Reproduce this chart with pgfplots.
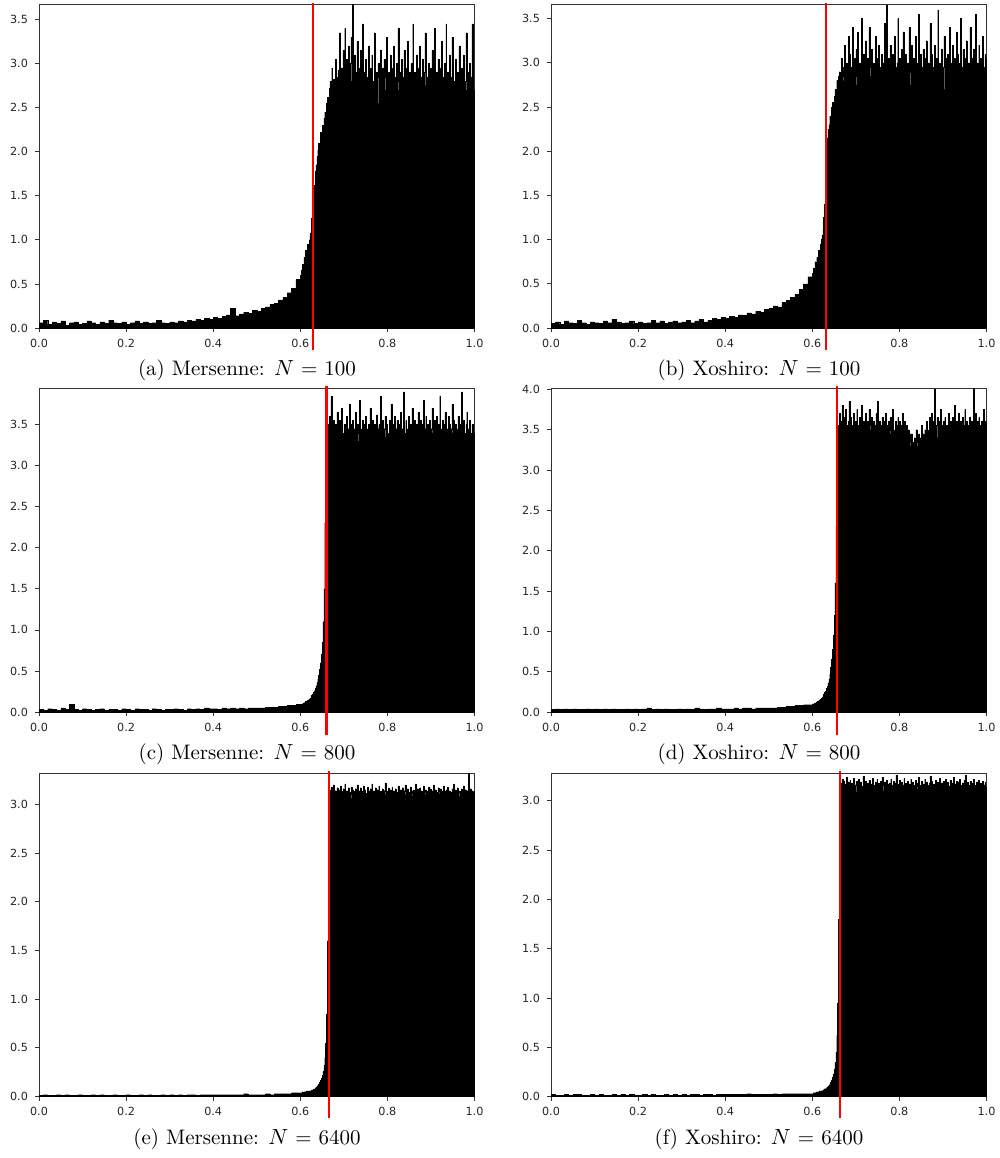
\documentclass[border=0pt]{standalone}
\usepackage{fontspec}
\newfontfamily\tickfont{DejaVu Sans}
\usepackage{pgfplots}
\usepackage{pgfplotstable}
\pgfplotsset{compat=1.18}

% ---------- (a) Mersenne N=100 ----------
\pgfplotstableread[header=false,row sep=\\]{
0.06\\0.09\\0.04\\0.07\\0.05\\0.08\\0.03\\0.06\\0.07\\0.04\\
0.05\\0.08\\0.06\\0.04\\0.07\\0.05\\0.09\\0.06\\0.05\\0.07\\
0.04\\0.06\\0.08\\0.05\\0.07\\0.05\\0.06\\0.09\\0.06\\0.05\\
0.07\\0.06\\0.08\\0.07\\0.09\\0.08\\0.10\\0.09\\0.11\\0.10\\
0.12\\0.11\\0.13\\0.15\\0.22\\0.14\\0.16\\0.18\\0.17\\0.20\\
0.19\\0.22\\0.24\\0.27\\0.28\\0.32\\0.35\\0.40\\0.45\\0.55\\
0.55\\
}\aL
\pgfplotstableread[header=false,row sep=\\]{
0.60\\0.66\\0.72\\0.65\\0.80\\0.76\\0.88\\0.82\\0.95\\0.90\\
1.00\\1.08\\1.05\\1.25\\1.42\\1.55\\1.62\\1.78\\1.85\\1.95\\
2.02\\2.10\\2.08\\2.22\\2.20\\2.30\\2.28\\2.38\\2.45\\2.42\\
2.55\\2.62\\2.58\\2.72\\2.80\\2.68\\2.95\\2.75\\2.82\\2.70\\
3.05\\2.85\\2.78\\2.92\\2.80\\3.35\\2.88\\2.95\\2.75\\3.15\\
2.90\\3.40\\2.70\\3.05\\2.85\\3.20\\2.65\\3.00\\3.30\\2.80\\
3.67\\2.75\\3.10\\2.90\\2.60\\3.25\\2.85\\2.95\\2.55\\3.15\\
2.80\\3.45\\2.70\\2.90\\2.50\\3.05\\2.85\\2.65\\3.20\\2.75\\
2.95\\2.45\\3.10\\2.80\\2.70\\3.35\\2.60\\2.90\\2.85\\3.00\\
2.55\\2.80\\3.15\\2.75\\2.95\\2.40\\3.05\\2.85\\2.70\\3.30\\
2.65\\2.90\\2.80\\3.10\\2.50\\2.95\\2.75\\3.20\\2.85\\2.60\\
3.00\\2.80\\3.40\\2.70\\2.90\\2.55\\3.05\\2.85\\2.75\\3.15\\
2.60\\2.95\\2.80\\3.25\\2.70\\2.90\\2.45\\3.00\\2.85\\3.45\\
2.75\\2.90\\2.65\\3.10\\2.80\\2.95\\2.55\\3.20\\2.70\\2.85\\
3.05\\2.60\\2.90\\3.35\\2.75\\2.85\\2.50\\3.00\\2.80\\2.95\\
2.70\\3.15\\2.85\\2.60\\3.40\\2.75\\2.90\\2.80\\3.05\\2.55\\
2.95\\2.70\\3.25\\2.85\\2.65\\3.00\\2.80\\3.45\\2.75\\2.90\\
2.60\\3.10\\2.85\\2.70\\3.30\\2.95\\2.50\\2.80\\3.05\\2.75\\
2.90\\2.65\\3.20\\2.85\\2.40\\2.95\\2.75\\3.10\\2.00\\2.80\\
3.35\\2.70\\2.90\\2.60\\3.00\\2.85\\2.55\\3.45\\2.75\\2.70\\
2.70\\
}\aR
% ---------- (b) Xoshiro N=100 ----------
\pgfplotstableread[header=false,row sep=\\]{
0.05\\0.07\\0.04\\0.08\\0.06\\0.05\\0.09\\0.06\\0.04\\0.07\\
0.06\\0.05\\0.08\\0.06\\0.10\\0.07\\0.05\\0.06\\0.08\\0.05\\
0.07\\0.05\\0.06\\0.09\\0.06\\0.08\\0.05\\0.07\\0.08\\0.06\\
0.07\\0.09\\0.06\\0.08\\0.10\\0.07\\0.09\\0.11\\0.10\\0.12\\
0.11\\0.13\\0.12\\0.15\\0.14\\0.17\\0.16\\0.19\\0.18\\0.21\\
0.22\\0.25\\0.24\\0.29\\0.31\\0.35\\0.38\\0.44\\0.50\\0.58\\
0.58\\
}\bL
\pgfplotstableread[header=false,row sep=\\]{
0.62\\0.68\\0.64\\0.75\\0.72\\0.80\\0.78\\0.88\\0.85\\0.95\\
1.00\\1.05\\1.12\\1.25\\1.40\\1.90\\2.05\\2.15\\2.25\\2.30\\
2.40\\2.38\\2.50\\2.55\\2.48\\2.62\\2.70\\2.58\\2.80\\2.72\\
2.85\\2.90\\2.78\\3.05\\2.85\\2.95\\2.80\\3.20\\2.90\\3.00\\
2.75\\3.30\\2.85\\3.10\\2.95\\2.80\\3.40\\2.90\\3.05\\2.85\\
3.15\\2.75\\3.35\\2.90\\3.00\\2.70\\3.50\\2.85\\3.10\\2.95\\
2.80\\3.25\\2.90\\3.05\\2.65\\3.40\\2.95\\2.85\\3.15\\2.75\\
3.00\\2.90\\3.30\\2.80\\3.05\\2.60\\3.20\\2.95\\2.85\\3.10\\
2.75\\3.00\\2.90\\3.45\\2.80\\3.65\\2.95\\3.05\\2.70\\3.20\\
2.90\\2.85\\3.10\\2.55\\3.30\\2.95\\2.80\\3.00\\3.50\\2.85\\
3.05\\2.70\\3.15\\2.90\\3.35\\2.80\\2.95\\3.10\\2.65\\3.00\\
2.85\\3.40\\2.90\\2.75\\3.20\\2.95\\3.05\\2.60\\3.30\\2.85\\
3.00\\2.90\\3.55\\2.80\\3.10\\2.95\\2.70\\3.15\\2.90\\3.05\\
2.85\\3.25\\2.75\\3.00\\2.95\\3.45\\2.80\\3.10\\2.65\\2.95\\
3.20\\2.90\\3.05\\2.85\\3.60\\2.75\\3.00\\2.90\\3.15\\2.80\\
2.95\\3.30\\2.70\\3.05\\2.90\\3.10\\2.85\\3.40\\2.60\\3.00\\
2.90\\3.20\\2.80\\3.05\\2.95\\3.35\\2.75\\3.10\\2.85\\3.00\\
3.50\\2.80\\2.95\\3.15\\2.70\\3.05\\2.90\\3.25\\2.85\\3.00\\
2.75\\3.40\\2.90\\3.05\\2.80\\3.15\\2.95\\3.55\\2.85\\3.00\\
2.70\\3.20\\2.90\\3.05\\2.85\\3.30\\2.95\\2.80\\3.10\\3.05\\
3.05\\
}\bR
% ---------- (c) Mersenne N=800 ----------
\pgfplotstableread[header=false,row sep=\\]{
0.03\\0.02\\0.04\\0.03\\0.02\\0.05\\0.03\\0.09\\0.03\\0.02\\
0.04\\0.03\\0.02\\0.03\\0.04\\0.02\\0.03\\0.03\\0.02\\0.04\\
0.03\\0.02\\0.04\\0.03\\0.03\\0.02\\0.04\\0.03\\0.02\\0.03\\
0.03\\0.04\\0.03\\0.02\\0.04\\0.03\\0.04\\0.03\\0.05\\0.04\\
0.04\\0.03\\0.05\\0.04\\0.05\\0.04\\0.05\\0.04\\0.05\\0.05\\
0.05\\0.05\\0.06\\0.06\\0.06\\0.07\\0.07\\0.08\\0.08\\0.09\\
0.09\\
}\cL
\pgfplotstableread[header=false,row sep=\\]{
0.09\\0.10\\0.10\\0.11\\0.11\\0.12\\0.13\\0.13\\0.14\\0.15\\
0.16\\0.17\\0.19\\0.20\\0.22\\0.24\\0.26\\0.29\\0.32\\0.36\\
0.40\\0.45\\0.52\\0.60\\0.70\\0.85\\1.10\\1.50\\2.30\\3.10\\
3.35\\3.50\\3.40\\3.60\\3.30\\3.85\\3.45\\3.35\\3.55\\3.25\\
3.50\\3.40\\3.65\\3.30\\3.45\\3.55\\3.35\\3.70\\3.40\\3.30\\
3.50\\3.45\\3.35\\3.60\\3.25\\3.45\\3.75\\3.35\\3.50\\3.40\\
3.55\\3.30\\3.45\\3.65\\3.35\\3.50\\3.40\\3.30\\3.80\\3.45\\
3.35\\3.55\\3.40\\3.50\\3.25\\3.60\\3.45\\3.35\\3.50\\3.40\\
3.70\\3.30\\3.45\\3.55\\3.35\\3.50\\3.40\\3.62\\3.30\\3.45\\
3.50\\3.35\\3.85\\3.40\\3.55\\3.30\\3.45\\3.60\\3.35\\3.50\\
3.40\\3.30\\3.55\\3.45\\3.75\\3.35\\3.50\\3.40\\3.60\\3.30\\
3.45\\3.55\\3.35\\3.50\\3.40\\3.65\\3.30\\3.45\\3.90\\3.40\\
3.35\\3.55\\3.45\\3.30\\3.60\\3.40\\3.50\\3.35\\3.70\\3.45\\
3.30\\3.55\\3.40\\3.50\\3.35\\3.65\\3.45\\3.30\\3.55\\3.40\\
3.50\\3.80\\3.35\\3.45\\3.60\\3.30\\3.50\\3.40\\3.55\\3.35\\
3.45\\3.70\\3.40\\3.30\\3.55\\3.45\\3.60\\3.35\\3.50\\3.40\\
3.85\\3.45\\3.35\\3.55\\3.30\\3.50\\3.65\\3.40\\3.45\\3.35\\
3.60\\3.50\\3.30\\3.45\\3.75\\3.40\\3.55\\3.35\\3.50\\3.45\\
3.30\\3.60\\3.40\\3.50\\3.35\\3.90\\3.45\\3.55\\3.40\\3.30\\
3.50\\3.65\\3.35\\3.45\\3.55\\3.40\\3.30\\3.50\\3.45\\3.40\\
3.40\\
}\cR
% ---------- (d) Xoshiro N=800 ----------
\pgfplotstableread[header=false,row sep=\\]{
0.03\\0.04\\0.03\\0.04\\0.03\\0.04\\0.03\\0.03\\0.04\\0.03\\
0.04\\0.03\\0.04\\0.03\\0.04\\0.03\\0.03\\0.04\\0.03\\0.04\\
0.03\\0.04\\0.05\\0.03\\0.04\\0.03\\0.04\\0.03\\0.03\\0.04\\
0.03\\0.04\\0.03\\0.05\\0.04\\0.03\\0.04\\0.04\\0.05\\0.04\\
0.04\\0.04\\0.05\\0.04\\0.05\\0.05\\0.04\\0.05\\0.05\\0.05\\
0.05\\0.05\\0.06\\0.06\\0.07\\0.07\\0.08\\0.08\\0.09\\0.09\\
0.09\\
}\dL
\pgfplotstableread[header=false,row sep=\\]{
0.10\\0.10\\0.11\\0.11\\0.12\\0.13\\0.13\\0.14\\0.15\\0.16\\
0.17\\0.18\\0.20\\0.22\\0.24\\0.26\\0.29\\0.32\\0.36\\0.41\\
0.47\\0.55\\0.65\\0.78\\0.95\\1.20\\1.60\\2.30\\3.30\\3.55\\
3.55\\3.70\\3.45\\3.60\\3.80\\3.50\\3.65\\3.40\\3.75\\3.55\\
3.45\\3.60\\3.85\\3.50\\3.65\\3.45\\3.55\\3.70\\3.40\\3.60\\
3.50\\3.75\\3.45\\3.55\\3.65\\3.50\\3.80\\3.45\\3.60\\3.55\\
3.40\\3.70\\3.50\\3.60\\3.45\\3.75\\3.55\\3.50\\3.65\\3.40\\
3.60\\3.55\\3.45\\3.70\\3.50\\3.85\\3.45\\3.60\\3.55\\3.40\\
3.65\\3.50\\3.60\\3.45\\3.70\\3.55\\3.40\\3.60\\3.50\\3.65\\
3.45\\3.55\\3.75\\3.50\\3.40\\3.60\\3.55\\3.45\\3.65\\3.50\\
3.60\\3.40\\3.55\\3.70\\3.45\\3.50\\3.60\\3.40\\3.55\\3.45\\
3.50\\3.35\\3.45\\3.30\\3.45\\3.35\\3.25\\3.40\\3.30\\3.50\\
3.35\\3.30\\3.45\\3.30\\3.40\\3.55\\3.35\\3.45\\3.30\\3.50\\
3.45\\3.60\\3.50\\3.40\\3.65\\3.55\\3.45\\3.70\\3.50\\3.60\\
4.00\\3.45\\3.55\\3.65\\3.40\\3.60\\3.50\\3.75\\3.45\\3.55\\
3.60\\3.40\\3.65\\3.50\\3.55\\3.45\\3.70\\3.50\\3.60\\3.40\\
3.55\\3.65\\3.45\\3.80\\3.50\\3.60\\3.45\\3.55\\3.70\\3.40\\
3.60\\3.50\\3.65\\3.45\\3.55\\3.75\\3.50\\3.60\\3.40\\3.55\\
3.65\\3.45\\3.60\\3.50\\3.55\\4.02\\3.45\\3.70\\3.50\\3.60\\
3.40\\3.65\\3.55\\3.45\\3.60\\3.50\\3.75\\3.45\\3.55\\3.60\\
3.60\\
}\dR
% ---------- (e) Mersenne N=6400 ----------
\pgfplotstableread[header=false,row sep=\\]{
0.01\\0.02\\0.01\\0.01\\0.02\\0.01\\0.02\\0.01\\0.01\\0.02\\
0.01\\0.01\\0.02\\0.01\\0.02\\0.01\\0.01\\0.02\\0.01\\0.01\\
0.02\\0.01\\0.01\\0.02\\0.01\\0.02\\0.01\\0.01\\0.02\\0.01\\
0.02\\0.01\\0.02\\0.01\\0.02\\0.02\\0.01\\0.02\\0.02\\0.02\\
0.02\\0.02\\0.02\\0.02\\0.02\\0.02\\0.02\\0.03\\0.02\\0.02\\
0.02\\0.02\\0.03\\0.02\\0.03\\0.03\\0.03\\0.03\\0.04\\0.04\\
0.04\\
}\eL
\pgfplotstableread[header=false,row sep=\\]{
0.04\\0.04\\0.05\\0.04\\0.05\\0.05\\0.05\\0.06\\0.05\\0.06\\
0.06\\0.06\\0.07\\0.07\\0.07\\0.08\\0.08\\0.09\\0.10\\0.11\\
0.12\\0.13\\0.15\\0.17\\0.19\\0.22\\0.26\\0.32\\0.40\\0.55\\
0.85\\1.60\\3.05\\
3.15\\3.08\\3.18\\3.10\\3.13\\3.20\\3.06\\3.14\\3.11\\3.17\\
3.09\\3.15\\3.12\\3.19\\3.07\\3.13\\3.16\\3.10\\3.21\\3.11\\
3.14\\3.08\\3.17\\3.12\\3.10\\3.18\\3.06\\3.15\\3.13\\3.09\\
3.16\\3.11\\3.20\\3.08\\3.14\\3.12\\3.17\\3.05\\3.13\\3.19\\
3.10\\3.15\\3.11\\3.08\\3.18\\3.13\\3.09\\3.16\\3.12\\3.21\\
3.07\\3.14\\3.11\\3.17\\3.10\\3.15\\3.08\\3.19\\3.12\\3.13\\
3.09\\3.16\\3.11\\3.14\\3.22\\3.10\\3.13\\3.07\\3.17\\3.12\\
3.15\\3.09\\3.18\\3.11\\3.14\\3.06\\3.16\\3.12\\3.10\\3.19\\
3.13\\3.08\\3.15\\3.11\\3.17\\3.09\\3.14\\3.20\\3.10\\3.13\\
3.16\\3.07\\3.12\\3.18\\3.11\\3.14\\3.09\\3.15\\3.12\\3.21\\
3.10\\3.16\\3.08\\3.13\\3.17\\3.11\\3.14\\3.09\\3.19\\3.12\\
3.15\\3.10\\3.13\\3.07\\3.18\\3.12\\3.16\\3.10\\3.14\\3.11\\
3.20\\3.08\\3.15\\3.12\\3.09\\3.17\\3.13\\3.11\\3.16\\3.10\\
3.14\\3.19\\3.09\\3.13\\3.15\\3.11\\3.18\\3.08\\3.14\\3.12\\
3.10\\3.16\\3.13\\3.21\\3.09\\3.15\\3.11\\3.17\\3.12\\3.14\\
3.08\\3.13\\3.16\\3.10\\3.19\\3.12\\3.15\\3.11\\3.14\\3.10\\
3.32\\3.12\\3.16\\3.09\\3.14\\3.11\\3.13\\
3.13\\
}\eR
% ---------- (f) Xoshiro N=6400 ----------
\pgfplotstableread[header=false,row sep=\\]{
0.02\\0.01\\0.01\\0.02\\0.01\\0.02\\0.02\\0.01\\0.01\\0.02\\
0.01\\0.02\\0.01\\0.01\\0.02\\0.01\\0.02\\0.01\\0.02\\0.01\\
0.01\\0.02\\0.01\\0.02\\0.01\\0.01\\0.02\\0.01\\0.02\\0.01\\
0.02\\0.01\\0.02\\0.02\\0.01\\0.02\\0.02\\0.01\\0.02\\0.02\\
0.02\\0.02\\0.02\\0.02\\0.02\\0.03\\0.02\\0.02\\0.02\\0.02\\
0.02\\0.03\\0.02\\0.03\\0.03\\0.03\\0.03\\0.03\\0.03\\0.03\\
0.03\\
}\fL
\pgfplotstableread[header=false,row sep=\\]{
0.03\\0.04\\0.04\\0.04\\0.05\\0.04\\0.05\\0.05\\0.06\\0.05\\
0.06\\0.06\\0.07\\0.07\\0.08\\0.08\\0.09\\0.10\\0.11\\0.12\\
0.13\\0.15\\0.17\\0.20\\0.23\\0.28\\0.35\\0.45\\0.62\\0.95\\
1.80\\3.10\\
3.18\\3.12\\3.22\\3.14\\3.20\\3.10\\3.17\\3.24\\3.13\\3.19\\
3.15\\3.21\\3.11\\3.18\\3.14\\3.23\\3.12\\3.16\\3.20\\3.09\\
3.17\\3.22\\3.13\\3.19\\3.15\\3.11\\3.25\\3.16\\3.12\\3.20\\
3.14\\3.18\\3.10\\3.21\\3.15\\3.17\\3.12\\3.23\\3.16\\3.13\\
3.19\\3.11\\3.22\\3.15\\3.18\\3.12\\3.20\\3.14\\3.24\\3.16\\
3.10\\3.19\\3.13\\3.21\\3.17\\3.12\\3.18\\3.15\\3.22\\3.11\\
3.16\\3.20\\3.13\\3.18\\3.26\\3.14\\3.17\\3.12\\3.21\\3.15\\
3.19\\3.10\\3.16\\3.23\\3.13\\3.18\\3.15\\3.20\\3.12\\3.17\\
3.14\\3.22\\3.11\\3.19\\3.16\\3.13\\3.21\\3.15\\3.18\\3.12\\
3.24\\3.16\\3.14\\3.20\\3.11\\3.17\\3.15\\3.22\\3.13\\3.19\\
3.16\\3.12\\3.18\\3.25\\3.14\\3.20\\3.10\\3.17\\3.15\\3.21\\
3.13\\3.19\\3.16\\3.12\\3.23\\3.15\\3.18\\3.14\\3.20\\3.11\\
3.17\\3.22\\3.13\\3.19\\3.15\\3.12\\3.21\\3.16\\3.18\\3.14\\
3.24\\3.12\\3.17\\3.20\\3.15\\3.19\\3.13\\3.22\\3.16\\3.11\\
3.18\\3.14\\3.21\\3.15\\3.26\\3.13\\3.19\\3.16\\3.12\\3.20\\
3.15\\3.18\\3.13\\3.22\\3.16\\3.11\\3.19\\3.14\\3.21\\3.17\\
3.12\\3.18\\3.15\\3.20\\3.13\\3.16\\3.19\\3.14\\
3.14\\
}\fR

\pgfplotsset{
  hist/.style={
    scale only axis, width=217.75pt, height=161.75pt,
    anchor=south west,
    xmin=0, xmax=1, ymin=0,
    xtick={0,0.2,0.4,0.6,0.8,1.0},
    ytick={0,0.5,1,1.5,2,2.5,3,3.5,4},
    tick pos=left,
    tick align=outside,
    major tick length=2pt,
    every tick/.style={black!80, line width=0.4pt},
    axis line style={black!80, line width=0.4pt},
    tick label style={font=\tickfont\fontsize{5.6}{6.5}\selectfont, text=black!85},
    /pgf/number format/fixed,
    /pgf/number format/fixed zerofill,
    /pgf/number format/precision=1,
    /pgf/number format/assume math mode=true,
    clip mode=individual,
  },
  barL/.style={const plot, fill=black, draw=black, line width=0.15pt},
}
\newcommand{\redline}[3]{\addplot[red, line width=1.1pt, clip=false, forget plot] coordinates {(#1,#2) (#1,#3)};}
\newcommand{\capfont}{\fontsize{10.5}{12}\selectfont}

\begin{document}
\begin{tikzpicture}
\useasboundingbox (0,0) rectangle (500pt,-579pt);

% Row 1
\begin{axis}[hist, at={(19.5pt,-164pt)}, ymax=3.67]
\addplot[barL] table[x expr=\coordindex*0.01, y index=0] {\aL} \closedcycle;
\addplot[barL] table[x expr=0.6+\coordindex*0.002, y index=0] {\aR} \closedcycle;
\redline{0.630}{-0.25}{3.69}
\end{axis}
\begin{axis}[hist, at={(275.5pt,-164pt)}, ymax=3.66]
\addplot[barL] table[x expr=\coordindex*0.01, y index=0] {\bL} \closedcycle;
\addplot[barL] table[x expr=0.6+\coordindex*0.002, y index=0] {\bR} \closedcycle;
\redline{0.631}{-0.25}{3.68}
\end{axis}
\node[font=\capfont] at (123.5pt,-185pt) {(a) Mersenne: $N$ = 100};
\node[font=\capfont] at (379.5pt,-185pt) {(b) Xoshiro: $N$ = 100};

% Row 2
\begin{axis}[hist, at={(19.5pt,-356pt)}, ymax=3.94]
\addplot[barL] table[x expr=\coordindex*0.01, y index=0] {\cL} \closedcycle;
\addplot[barL] table[x expr=0.6+\coordindex*0.002, y index=0] {\cR} \closedcycle;
\redline{0.660}{-0.28}{3.97}
\end{axis}
\begin{axis}[hist, at={(275.5pt,-356pt)}, ymax=4.01]
\addplot[barL] table[x expr=\coordindex*0.01, y index=0] {\dL} \closedcycle;
\addplot[barL] table[x expr=0.6+\coordindex*0.002, y index=0] {\dR} \closedcycle;
\redline{0.657}{-0.28}{4.04}
\end{axis}
\node[font=\capfont] at (123.5pt,-377pt) {(c) Mersenne: $N$ = 800};
\node[font=\capfont] at (379.5pt,-377pt) {(d) Xoshiro: $N$ = 800};

% Row 3
\begin{axis}[hist, at={(19.5pt,-548.3pt)}, ymax=3.32]
\addplot[barL] table[x expr=\coordindex*0.01, y index=0] {\eL} \closedcycle;
\addplot[barL] table[x expr=0.6+\coordindex*0.002, y index=0] {\eR} \closedcycle;
\redline{0.665}{-0.22}{3.34}
\end{axis}
\begin{axis}[hist, at={(275.5pt,-548.3pt)}, ymax=3.28]
\addplot[barL] table[x expr=\coordindex*0.01, y index=0] {\fL} \closedcycle;
\addplot[barL] table[x expr=0.6+\coordindex*0.002, y index=0] {\fR} \closedcycle;
\redline{0.663}{-0.22}{3.30}
\end{axis}
\node[font=\capfont] at (123.5pt,-569.5pt) {(e) Mersenne: $N$ = 6400};
\node[font=\capfont] at (379.5pt,-569.5pt) {(f) Xoshiro: $N$ = 6400};
\end{tikzpicture}
\end{document}
